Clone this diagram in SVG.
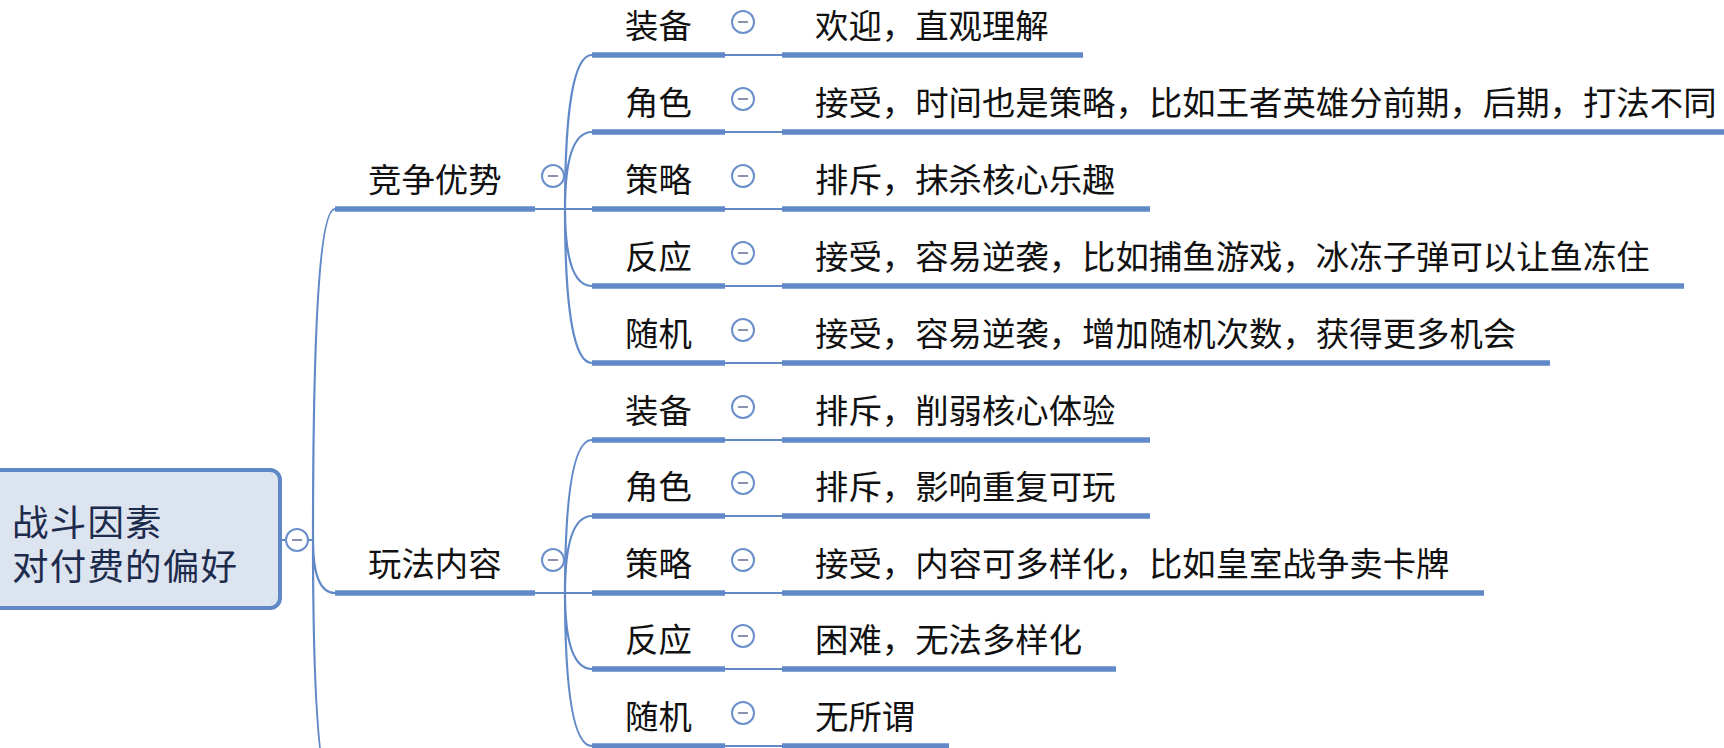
<svg xmlns="http://www.w3.org/2000/svg" width="1724" height="748" viewBox="0 0 1724 748">
<style>
.u{stroke:#6189c8;stroke-width:5.5;fill:none}
.c{stroke:#6189c8;stroke-width:2.2;fill:none}
.t{font-family:"Noto Sans CJK SC","Noto Sans CJK JP",sans-serif;font-size:33.4px;fill:#111}
.rt{font-family:"Noto Sans CJK SC","Noto Sans CJK JP",sans-serif;font-size:36.5px;letter-spacing:1.2px;fill:#1d2b4d}
.btn circle{fill:#fff;stroke:#6a8fcb;stroke-width:2}
.btn line{stroke:#8a93ae;stroke-width:2}
</style>
<rect width="1724" height="748" fill="#fff"/>
<g id="connectors">
<path class="c" d="M280 540H313M313 540Q313 209 335 209M313 540Q313 593 335 593M313 540Q313 797 335 797"/>
<path class="c" d="M535 209H565M565 209Q565 55 592 55M565 209Q565 132 592 132M565 209H592M565 209Q565 286 592 286M565 209Q565 363 592 363"/>
<path class="c" d="M535 593H565M565 593Q565 440 592 440M565 593Q565 516 592 516M565 593H592M565 593Q565 669 592 669M565 593Q565 746 592 746"/>
<path class="c" d="M725 55H782M725 132H782M725 209H782M725 286H782M725 363H782M725 440H782M725 516H782M725 593H782M725 669H782M725 746H782"/>
</g>
<g id="root">
<rect x="-30" y="470" width="310" height="138" rx="10" fill="#dce4f0" stroke="#5f88c7" stroke-width="4"/>
<text class="rt"><tspan x="12" y="536">战斗因素</tspan><tspan x="12" y="580">对付费的偏好</tspan></text>
<g class="btn"><circle cx="297" cy="540" r="11"/><line x1="292" y1="540" x2="302" y2="540"/></g>
</g>
<g id="n-jzys">
<line class="u" x1="335" y1="209" x2="535" y2="209"/>
<text class="t" x="368" y="192">竞争优势</text>
<g class="btn"><circle cx="553" cy="176" r="11"/><line x1="548" y1="176" x2="558" y2="176"/></g>
</g>
<g id="n-wfnr">
<line class="u" x1="335" y1="593" x2="535" y2="593"/>
<text class="t" x="368" y="576">玩法内容</text>
<g class="btn"><circle cx="553" cy="560" r="11"/><line x1="548" y1="560" x2="558" y2="560"/></g>
</g>
<g id="n-a1"><line class="u" x1="592" y1="55" x2="725" y2="55"/><text class="t" x="625" y="38">装备</text><g class="btn"><circle cx="743" cy="22" r="11"/><line x1="738" y1="22" x2="748" y2="22"/></g></g>
<g id="n-a2"><line class="u" x1="592" y1="132" x2="725" y2="132"/><text class="t" x="625" y="115">角色</text><g class="btn"><circle cx="743" cy="99" r="11"/><line x1="738" y1="99" x2="748" y2="99"/></g></g>
<g id="n-a3"><line class="u" x1="592" y1="209" x2="725" y2="209"/><text class="t" x="625" y="192">策略</text><g class="btn"><circle cx="743" cy="176" r="11"/><line x1="738" y1="176" x2="748" y2="176"/></g></g>
<g id="n-a4"><line class="u" x1="592" y1="286" x2="725" y2="286"/><text class="t" x="625" y="269">反应</text><g class="btn"><circle cx="743" cy="253" r="11"/><line x1="738" y1="253" x2="748" y2="253"/></g></g>
<g id="n-a5"><line class="u" x1="592" y1="363" x2="725" y2="363"/><text class="t" x="625" y="346">随机</text><g class="btn"><circle cx="743" cy="330" r="11"/><line x1="738" y1="330" x2="748" y2="330"/></g></g>
<g id="n-b1"><line class="u" x1="592" y1="440" x2="725" y2="440"/><text class="t" x="625" y="423">装备</text><g class="btn"><circle cx="743" cy="407" r="11"/><line x1="738" y1="407" x2="748" y2="407"/></g></g>
<g id="n-b2"><line class="u" x1="592" y1="516" x2="725" y2="516"/><text class="t" x="625" y="499">角色</text><g class="btn"><circle cx="743" cy="483" r="11"/><line x1="738" y1="483" x2="748" y2="483"/></g></g>
<g id="n-b3"><line class="u" x1="592" y1="593" x2="725" y2="593"/><text class="t" x="625" y="576">策略</text><g class="btn"><circle cx="743" cy="560" r="11"/><line x1="738" y1="560" x2="748" y2="560"/></g></g>
<g id="n-b4"><line class="u" x1="592" y1="669" x2="725" y2="669"/><text class="t" x="625" y="652">反应</text><g class="btn"><circle cx="743" cy="636" r="11"/><line x1="738" y1="636" x2="748" y2="636"/></g></g>
<g id="n-b5"><line class="u" x1="592" y1="746" x2="725" y2="746"/><text class="t" x="625" y="729">随机</text><g class="btn"><circle cx="743" cy="713" r="11"/><line x1="738" y1="713" x2="748" y2="713"/></g></g>
<g id="l-a1"><line class="u" x1="782" y1="55" x2="1083" y2="55"/><text class="t" x="815" y="38">欢迎，直观理解</text></g>
<g id="l-a2"><line class="u" x1="782" y1="132" x2="1751" y2="132"/><text class="t" x="815" y="115">接受，时间也是策略，比如王者英雄分前期，后期，打法不同</text></g>
<g id="l-a3"><line class="u" x1="782" y1="209" x2="1150" y2="209"/><text class="t" x="815" y="192">排斥，抹杀核心乐趣</text></g>
<g id="l-a4"><line class="u" x1="782" y1="286" x2="1684" y2="286"/><text class="t" x="815" y="269">接受，容易逆袭，比如捕鱼游戏，冰冻子弹可以让鱼冻住</text></g>
<g id="l-a5"><line class="u" x1="782" y1="363" x2="1550" y2="363"/><text class="t" x="815" y="346">接受，容易逆袭，增加随机次数，获得更多机会</text></g>
<g id="l-b1"><line class="u" x1="782" y1="440" x2="1150" y2="440"/><text class="t" x="815" y="423">排斥，削弱核心体验</text></g>
<g id="l-b2"><line class="u" x1="782" y1="516" x2="1150" y2="516"/><text class="t" x="815" y="499">排斥，影响重复可玩</text></g>
<g id="l-b3"><line class="u" x1="782" y1="593" x2="1484" y2="593"/><text class="t" x="815" y="576">接受，内容可多样化，比如皇室战争卖卡牌</text></g>
<g id="l-b4"><line class="u" x1="782" y1="669" x2="1116" y2="669"/><text class="t" x="815" y="652">困难，无法多样化</text></g>
<g id="l-b5"><line class="u" x1="782" y1="746" x2="949" y2="746"/><text class="t" x="815" y="729">无所谓</text></g>
</svg>
